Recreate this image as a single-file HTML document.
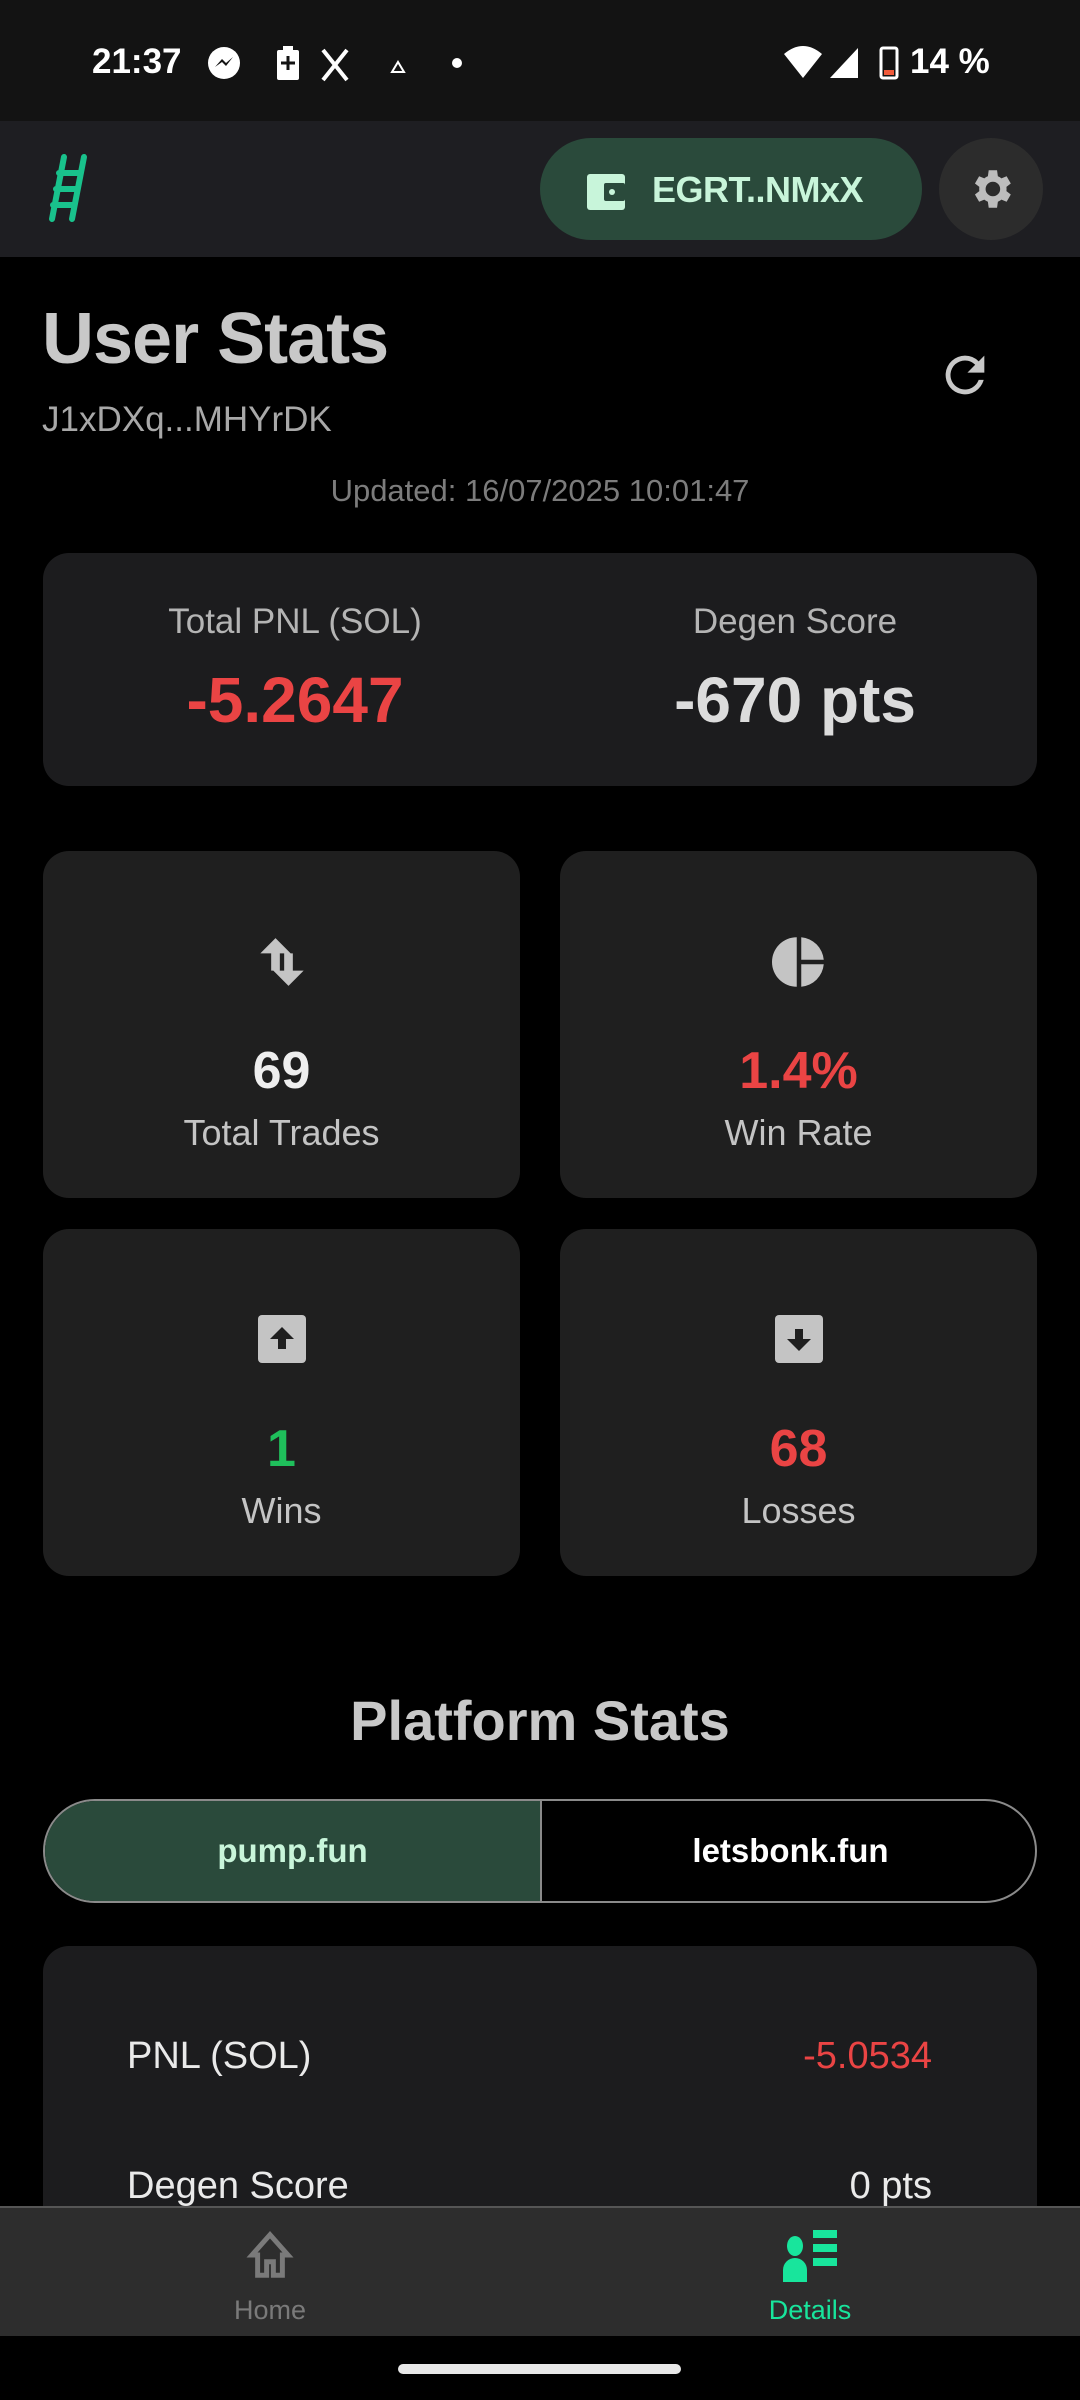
<!DOCTYPE html>
<html><head><meta charset="utf-8">
<style>
*{margin:0;padding:0;box-sizing:border-box}
body{width:1080px;height:2400px;background:#000;font-family:"Liberation Sans",sans-serif;position:relative;overflow:hidden}
.a{position:absolute}
.c{text-align:center}
.card{position:absolute;background:#1c1c1e;border-radius:26px}
.sc{position:absolute;background:#1f1f1f;border-radius:26px;width:477px;height:347px}
.num{position:absolute;left:0;width:100%;text-align:center;font-weight:bold;font-size:52px}
.lbl{position:absolute;left:0;width:100%;text-align:center;font-size:36px;color:#c4c4c4}
.ic{position:absolute;left:50%;transform:translateX(-50%)}
</style></head><body>
<div class="a" style="left:0;top:0;width:1080px;height:121px;background:#131313">
  <div class="a" style="left:92px;top:42px;color:#fff;font-size:35px;font-weight:bold">21:37</div>
  <svg class="a" style="left:205px;top:44px" width="270" height="40">
    <circle cx="19" cy="19" r="16" fill="#fff"/><path d="M10 23 L17 15 L21 19 L28 13 L21 22 L17 18 Z" fill="#131313"/>
    <rect x="72" y="6" width="22" height="30" rx="2" fill="#fff"/><rect x="78" y="2" width="10" height="4" fill="#fff"/><path d="M83 12v14M76 19h14" stroke="#131313" stroke-width="3"/>
    <path d="M118 6 L142 36 M142 6 L118 36" stroke="#fff" stroke-width="4"/>
    <path d="M193 18 L199 28 L187 28 Z" fill="none" stroke="#fff" stroke-width="2"/>
    <circle cx="252" cy="19" r="5" fill="#fff"/>
  </svg>
  <svg class="a" style="left:783px;top:42px" width="120" height="40">
    <path d="M1 12 Q20 -4 39 12 L20 36 Z" fill="#fff"/>
    <path d="M47 36 L75 36 L75 6 Z" fill="#fff"/>
    <rect x="98" y="6" width="16" height="30" rx="2" fill="none" stroke="#fff" stroke-width="3"/><rect x="101" y="28" width="10" height="5" fill="#f05a3a"/>
  </svg>
  <div class="a" style="left:910px;top:42px;color:#fff;font-size:35px;font-weight:bold">14 %</div>
</div>
<div class="a" style="left:0;top:121px;width:1080px;height:136px;background:#1e1e22">
  <svg class="a" style="left:44px;top:32px" width="56" height="70">
    <path d="M20 4 L8 66 M40 4 L28 66 M15 20 H36 M12 36 H33 M9 52 H30" stroke="#19c28c" stroke-width="6" stroke-linecap="round"/>
  </svg>
  <div class="a" style="left:540px;top:17px;width:382px;height:102px;border-radius:51px;background:#2a4a3b">
    <svg class="a" style="left:47px;top:36px" width="40" height="36"><rect x="0" y="0" width="38" height="36" rx="3" fill="#c8f5da"/><rect x="17" y="9" width="21" height="18" rx="2" fill="#2a4a3b"/><circle cx="25" cy="18" r="3" fill="#c8f5da"/></svg>
    <div class="a" style="left:112px;top:31px;font-size:36px;color:#c8f5da;font-weight:bold;letter-spacing:-0.5px">EGRT..NMxX</div>
  </div>
  <div class="a" style="left:939px;top:17px;width:104px;height:102px;border-radius:50%;background:#2c2c2c">
    <svg class="a" style="left:27px;top:26px" width="50" height="50" viewBox="0 0 24 24"><path fill="#bdbdbd" d="M19.4 13c.04-.32.06-.66.06-1s-.02-.68-.06-1l2.1-1.65-2-3.460-2.5 1a7.3 7.3 0 0 0-1.7-1L14.9 3h-4l-.4 2.9c-.6.25-1.2.6-1.7 1l-2.5-1-2 3.46L6.4 11c-.04.32-.06.66-.06 1s.02.68.06 1l-2.1 1.65 2 3.46 2.5-1c.5.4 1.1.75 1.7 1l.4 2.9h4l.4-2.9c.6-.25 1.2-.6 1.7-1l2.5 1 2-3.46zM12.9 15.5a3.5 3.5 0 1 1 0-7 3.5 3.5 0 0 1 0 7z"/></svg>
  </div>
</div>
<div class="a" style="left:42px;top:298px;font-size:72px;font-weight:bold;color:#c8c8c8;letter-spacing:-1px">User Stats</div>
<svg class="a" style="left:936px;top:346px" width="58" height="58" viewBox="0 0 24 24"><path fill="#c8c8c8" d="M17.65 6.35A7.960 7.96 0 0 0 12 4a8 8 0 1 0 7.73 10h-2.08A6 6 0 1 1 12 6c1.66 0 3.14.69 4.22 1.78L13 11h7V4l-2.35 2.35z"/></svg>
<div class="a" style="left:42px;top:400px;font-size:35px;color:#a8a8a8">J1xDXq...MHYrDK</div>
<div class="a c" style="left:0;width:1080px;top:473px;font-size:31px;color:#7c7c7c">Updated: 16/07/2025 10:01:47</div>

<div class="card" style="left:43px;top:553px;width:994px;height:233px">
  <div class="a c" style="left:0;width:504px;top:49px;font-size:35px;color:#b4b4b4">Total PNL (SOL)</div>
  <div class="a c" style="left:0;width:504px;top:110px;font-size:64px;font-weight:bold;color:#ea4444">-5.2647</div>
  <div class="a c" style="left:504px;width:496px;top:49px;font-size:35px;color:#b4b4b4">Degen Score</div>
  <div class="a c" style="left:504px;width:496px;top:110px;font-size:64px;font-weight:bold;color:#dcdcdc">-670 pts</div>
</div>

<div class="sc" style="left:43px;top:851px">
  <svg class="ic" style="top:84px" width="52" height="54" viewBox="0 0 24 24"><path fill="#c4c4c4" d="M9 1L2 8h5v8h4V8h5zM15 23l7-7h-5V8h-4v8H8z"/></svg>
  <div class="num" style="top:190px;color:#eee">69</div>
  <div class="lbl" style="top:261px">Total Trades</div>
</div>
<div class="sc" style="left:560px;top:851px">
  <svg class="ic" style="top:84px" width="54" height="54" viewBox="0 0 24 24"><path fill="#c4c4c4" d="M11 1a11 11 0 0 0 0 22zM13 1v10h10A11 11 0 0 0 13 1zM13 13v10a11 11 0 0 0 10-10z"/></svg>
  <div class="num" style="top:190px;color:#ea4444">1.4%</div>
  <div class="lbl" style="top:261px">Win Rate</div>
</div>
<div class="sc" style="left:43px;top:1229px">
  <svg class="ic" style="top:86px" width="48" height="48" viewBox="0 0 24 24"><rect width="24" height="24" rx="2" fill="#c4c4c4"/><path d="M12 6l-6 6h4v5h4v-5h4z" fill="#1f1f1f"/></svg>
  <div class="num" style="top:190px;color:#1fbf5b">1</div>
  <div class="lbl" style="top:261px">Wins</div>
</div>
<div class="sc" style="left:560px;top:1229px">
  <svg class="ic" style="top:86px" width="48" height="48" viewBox="0 0 24 24"><rect width="24" height="24" rx="2" fill="#c4c4c4"/><path d="M12 18l-6-6h4V7h4v5h4z" fill="#1f1f1f"/></svg>
  <div class="num" style="top:190px;color:#ea4444">68</div>
  <div class="lbl" style="top:261px">Losses</div>
</div>

<div class="a c" style="left:0;width:1080px;top:1688px;font-size:56px;font-weight:bold;color:#c8c8c8">Platform Stats</div>
<div class="a" style="left:43px;top:1799px;width:994px;height:104px;border:2px solid #8a8a8a;border-radius:52px;overflow:hidden">
  <div class="a c" style="left:0;top:0;width:497px;height:100px;background:#2a4a3b;border-right:2px solid #8a8a8a;line-height:100px;font-size:33px;font-weight:bold;color:#c8f5da">pump.fun</div>
  <div class="a c" style="left:497px;top:0;width:497px;height:100px;line-height:100px;font-size:33px;font-weight:bold;color:#fff">letsbonk.fun</div>
</div>
<div class="card" style="left:43px;top:1946px;width:994px;height:380px">
  <div class="a" style="left:84px;top:89px;font-size:38px;color:#eaeaea">PNL (SOL)</div>
  <div class="a" style="right:105px;top:89px;font-size:38px;color:#ea4444">-5.0534</div>
  <div class="a" style="left:84px;top:219px;font-size:38px;color:#eaeaea">Degen Score</div>
  <div class="a" style="right:105px;top:219px;font-size:38px;color:#eaeaea">0 pts</div>
</div>
<div class="a" style="left:0;top:2206px;width:1080px;height:130px;background:#2d2d2d;border-top:2px solid #555">
  <div class="a" style="left:0;top:0;width:540px;height:128px">
    <svg class="a" style="left:243px;top:20px" width="54" height="54" viewBox="0 0 24 24"><path d="M12 3L4 12h2.5v9h4v-6h3v6h4v-9H20z" fill="none" stroke="#7a7a7a" stroke-width="2.2"/></svg>
    <div class="a c" style="left:0;width:540px;top:87px;font-size:27px;color:#7a7a7a">Home</div>
  </div>
  <div class="a" style="left:540px;top:0;width:540px;height:128px">
    <svg class="a" style="left:243px;top:20px" width="56" height="54" viewBox="0 0 28 27"><ellipse cx="6" cy="9" rx="4" ry="5" fill="#18e59c"/><path d="M0 27v-6a6 6 0 0 1 12 0v6z" fill="#18e59c"/><rect x="15" y="1" width="12" height="4" fill="#18e59c"/><rect x="15" y="8" width="12" height="4" fill="#18e59c"/><rect x="15" y="15" width="12" height="4" fill="#18e59c"/></svg>
    <div class="a c" style="left:0;width:540px;top:87px;font-size:27px;color:#18e59c">Details</div>
  </div>
</div>
<div class="a" style="left:398px;top:2364px;width:283px;height:10px;border-radius:5px;background:#e8e8e8"></div>
</body></html>
